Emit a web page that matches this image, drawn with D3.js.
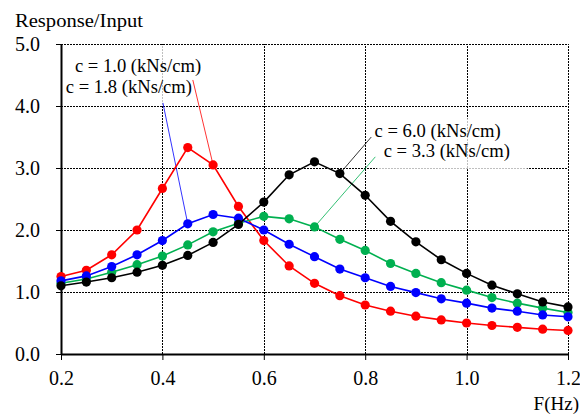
<!DOCTYPE html>
<html>
<head>
<meta charset="utf-8">
<script src="https://cdn.jsdelivr.net/npm/d3@7"></script>
<style>
  html, body { margin: 0; padding: 0; background: #fff; }
  svg { display: block; }
  text { font-family: "Liberation Serif", "Times New Roman", serif; fill: #000; }
</style>
</head>
<body>
<svg id="chart" width="580" height="414"></svg>
<script>
// Frequency sweep (Hz)
const freq = [0.2, 0.25, 0.3, 0.35, 0.4, 0.45, 0.5, 0.55, 0.6, 0.65, 0.7,
              0.75, 0.8, 0.85, 0.9, 0.95, 1.0, 1.05, 1.1, 1.15, 1.2];

// Response/Input ratio for each damping coefficient c (kNs/cm)
const c10 = [1.25, 1.35, 1.60, 2.00, 2.67, 3.33, 3.05, 2.38, 1.83, 1.42, 1.14,
             0.94, 0.79, 0.69, 0.61, 0.55, 0.50, 0.46, 0.43, 0.40, 0.38];
const c18 = [1.18, 1.26, 1.41, 1.60, 1.83, 2.10, 2.25, 2.19, 2.00, 1.77, 1.57,
             1.37, 1.23, 1.09, 0.99, 0.89, 0.82, 0.74, 0.69, 0.63, 0.60];
const c33 = [1.14, 1.21, 1.32, 1.44, 1.58, 1.76, 1.97, 2.11, 2.22, 2.18, 2.05,
             1.85, 1.67, 1.46, 1.30, 1.15, 1.03, 0.91, 0.82, 0.74, 0.67];
const c60 = [1.10, 1.16, 1.23, 1.32, 1.43, 1.59, 1.80, 2.09, 2.45, 2.89, 3.10,
             2.91, 2.56, 2.14, 1.81, 1.52, 1.30, 1.11, 0.97, 0.84, 0.76];

const seriesNames = ["c = 1.0 (kNs/cm)", "c = 3.3 (kNs/cm)", "c = 1.8 (kNs/cm)", "c = 6.0 (kNs/cm)"];
const seriesValues = [c10, c33, c18, c60];

const xTicks = [0.2, 0.4, 0.6, 0.8, 1.0, 1.2];
const yTicks = [0, 1, 2, 3, 4, 5];
const xTitle = "F(Hz)";
const yTitle = "Response/Input";

const svg = d3.select("#chart");
const W = 580, H = 414;
const m = { left: 61, right: 12, top: 44, bottom: 60 };

const x = d3.scaleLinear().domain([0.2, 1.2]).range([m.left, W - m.right]);
const y = d3.scaleLinear().domain([0, 5]).range([H - m.bottom, m.top]);

const style = {
  "c = 1.0 (kNs/cm)": "#ff0000",
  "c = 1.8 (kNs/cm)": "#0000ff",
  "c = 3.3 (kNs/cm)": "#00b050",
  "c = 6.0 (kNs/cm)": "#000000"
};

// dotted grid
const grid = svg.append("g");
grid.selectAll("line.h").data(yTicks.filter(d => d > 0)).join("line")
  .attr("x1", x(0.2)).attr("x2", x(1.2))
  .attr("y1", d => Math.round(y(d)) + 0.5).attr("y2", d => Math.round(y(d)) + 0.5)
  .attr("stroke", "#000").attr("stroke-width", 1).attr("stroke-dasharray", "2,1");
grid.selectAll("line.v").data(xTicks.filter(d => d > 0.2)).join("line")
  .attr("x1", d => Math.round(x(d)) + 0.5).attr("x2", d => Math.round(x(d)) + 0.5)
  .attr("y1", y(0)).attr("y2", y(5))
  .attr("stroke", "#000").attr("stroke-width", 1).attr("stroke-dasharray", "2,1");

// label panels (semi-opaque) over the grid
const panels = [
  { x0: 0.2, x1: 0.54, y0: 4.0, y1: 4.97 },
  { x0: 0.823, x1: 1.12, y0: 2.98, y1: 3.8 }
];
svg.append("g").selectAll("rect").data(panels).join("rect")
  .attr("x", d => x(d.x0)).attr("y", d => y(d.y1))
  .attr("width", d => x(d.x1) - x(d.x0)).attr("height", d => y(d.y0) - y(d.y1))
  .attr("fill", "#fff").attr("opacity", 0.75);

// axes
const xAxis = d3.axisBottom(x).tickValues(xTicks).tickFormat(d3.format(".1f")).tickSize(6).tickSizeOuter(0);
const yAxis = d3.axisLeft(y).tickValues(yTicks).tickFormat(d3.format(".1f")).tickSize(5).tickSizeOuter(0);

const gx = svg.append("g").attr("transform", `translate(0,${y(0)})`).call(xAxis);
const gy = svg.append("g").attr("transform", `translate(${m.left},0)`).call(yAxis);
[gx, gy].forEach(g => {
  g.attr("font-family", null);
  g.select(".domain").attr("stroke", "#000").attr("stroke-width", 2);
  g.selectAll(".tick line").attr("stroke", "#000").attr("stroke-width", 1);
  g.selectAll(".tick text")
    .style("font-family", '"Liberation Serif", "Times New Roman", serif')
    .style("font-size", "20px").attr("fill", "#000");
});
gx.selectAll(".tick text").attr("y", 17);
gy.selectAll(".tick text").attr("x", -21).attr("dy", "0.34em");

// axis titles
svg.append("text").attr("x", 15).attr("y", 27).style("font-size", "19px").text(yTitle)
  .attr("textLength", 128).attr("lengthAdjust", "spacingAndGlyphs");
svg.append("text").attr("x", 579).attr("y", 410).attr("text-anchor", "end")
  .style("font-size", "19px").text(xTitle);

// leader lines from label to a marked point
const leaders = [
  { name: "c = 1.0 (kNs/cm)", fx: 0.46, fy: 4.42, idx: 6 },
  { name: "c = 1.8 (kNs/cm)", fx: 0.401, fy: 4.05, idx: 5 },
  { name: "c = 6.0 (kNs/cm)", fx: 0.812, fy: 3.50, idx: 11 },
  { name: "c = 3.3 (kNs/cm)", fx: 0.82, fy: 3.18, idx: 10 }
];
svg.append("g").selectAll("line").data(leaders).join("line")
  .attr("x1", d => x(d.fx)).attr("y1", d => y(d.fy))
  .attr("x2", d => x(freq[d.idx]))
  .attr("y2", d => y(seriesValues[seriesNames.indexOf(d.name)][d.idx]))
  .attr("stroke", d => style[d.name]).attr("stroke-width", 0.8);

// series
const line = d3.line().x((d, i) => x(freq[i])).y(d => y(d));
seriesNames.forEach((name, k) => {
  const vals = seriesValues[k];
  const g = svg.append("g");
  g.append("path").datum(vals).attr("d", line)
    .attr("fill", "none").attr("stroke", style[name]).attr("stroke-width", 1.6);
  g.selectAll("circle").data(vals).join("circle")
    .attr("cx", (d, i) => x(freq[i])).attr("cy", d => y(d)).attr("r", 4.6)
    .attr("fill", style[name]);
});

// series labels
const labels = [
  { name: "c = 1.0 (kNs/cm)", fx: 0.2275, fy: 4.55 },
  { name: "c = 1.8 (kNs/cm)", fx: 0.2095, fy: 4.21 },
  { name: "c = 6.0 (kNs/cm)", fx: 0.8185, fy: 3.50 },
  { name: "c = 3.3 (kNs/cm)", fx: 0.8365, fy: 3.18 }
];
svg.append("g").selectAll("text").data(labels).join("text")
  .attr("x", d => x(d.fx)).attr("y", d => y(d.fy))
  .style("font-size", "18.6px").text(d => d.name);
</script>
</body>
</html>
